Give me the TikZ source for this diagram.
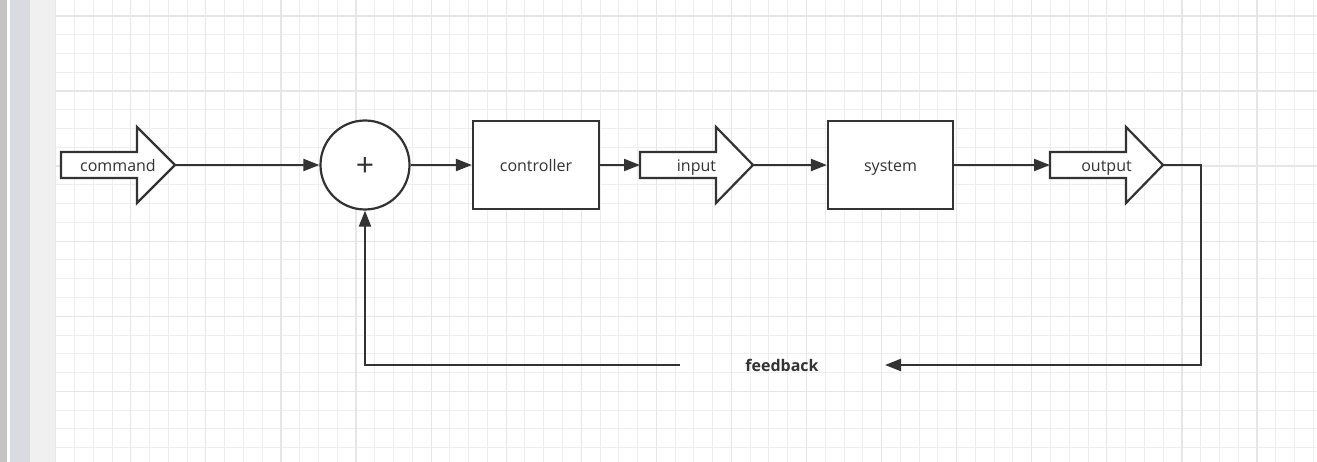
\documentclass[tikz,border=0pt]{standalone}
\usepackage{fontspec}
\setmainfont{Open Sans}
\usetikzlibrary{arrows.meta}
\definecolor{ink}{HTML}{333333}
\definecolor{gridminor}{HTML}{EEEEEE}
\definecolor{gridmajor}{HTML}{E6E6E6}
\definecolor{stripA}{HTML}{C4C4C4}
\definecolor{stripB}{HTML}{D9DBE0}
\definecolor{stripC}{HTML}{F0F0F0}
\tikzset{
  shapeline/.style={draw=ink, line width=2.2pt, fill=white},
  conn/.style={draw=ink, line width=2.2pt, -{Triangle[length=16pt,width=12pt]}},
  lbl/.style={text=ink, font=\fontsize{16}{19}\selectfont, inner sep=0pt, anchor=base},
  boldlbl/.style={text=ink, font=\fontsize{16}{19}\selectfont\bfseries, inner sep=0pt, anchor=base},
}
\begin{document}
\begin{tikzpicture}[x=1pt,y=-1pt]
\useasboundingbox (0,0) rectangle (1317,462);
% background
\fill[white] (0,0) rectangle (1317,462);
\fill[stripA] (0,0) rectangle (7.3,462);
\fill[stripB] (9.5,0) rectangle (30,462);
\fill[stripC] (30,0) rectangle (55.5,462);
% grid
\foreach \i in {0,...,67} {
  \draw[gridminor, line width=1pt] ({55.7+\i*18.77},0) -- ({55.7+\i*18.77},462);
}
\foreach \j in {0,...,25} {
  \draw[gridminor, line width=1pt] (55.5,{-2.85+\j*18.77}) -- (1317,{-2.85+\j*18.77});
}
\foreach \i in {0,...,16} {
  \draw[gridmajor, line width=1.2pt] ({55.7+\i*75.08},0) -- ({55.7+\i*75.08},462);
}
\foreach \j in {0,...,6} {
  \draw[gridmajor, line width=1.2pt] (55.5,{15.92+\j*75.08}) -- (1317,{15.92+\j*75.08});
}
% block arrows
\draw[shapeline] (61,152) -- (137,152) -- (137,127) -- (175,165) -- (137,203) -- (137,178) -- (61,178) -- cycle;
\node[lbl] (command) at (118,171.5) {command};
\coordinate (commandtip) at (175,165);

\draw[shapeline] (640,152) -- (716,152) -- (716,127) -- (753,165) -- (716,203) -- (716,178) -- (640,178) -- cycle;
\node[lbl] (input) at (696.5,171.5) {input};
\coordinate (inputtail) at (640,165);
\coordinate (inputtip) at (753,165);

\draw[shapeline] (1050,152) -- (1126,152) -- (1126,127) -- (1163,165) -- (1126,203) -- (1126,178) -- (1050,178) -- cycle;
\node[lbl] (output) at (1106.5,171.5) {output};
\coordinate (outputtail) at (1050,165);
\coordinate (outputtip) at (1163,165);

% summing junction
\node[shapeline, circle, minimum size=89pt, inner sep=0pt] (sum) at (365,165) {};
\node[text=ink, inner sep=0pt, font=\fontsize{32}{34}\selectfont] (plus) at (365,167) {+};

% blocks
\node[shapeline, minimum width=126pt, minimum height=88pt, inner sep=0pt] (controller) at (536,165) {};
\node[lbl] (controllertext) at (536,171.5) {controller};
\node[shapeline, minimum width=125pt, minimum height=88pt, inner sep=0pt] (system) at (890.5,165) {};
\node[lbl] (systemtext) at (890.5,171.5) {system};

% connectors
\draw[conn] (commandtip) -- (sum.west);
\draw[conn] (sum.east) -- (controller.west);
\draw[conn] (controller.east) -- (inputtail);
\draw[conn] (inputtip) -- (system.west);
\draw[conn] (system.east) -- (outputtail);

% feedback
\node[boldlbl] (feedback) at (782,371.5) {feedback};
\coordinate (fbright) at (885,365);
\coordinate (fbleft) at (680,365);
\coordinate (corner1) at (1201,165);
\coordinate (corner2) at (1201,365);
\coordinate (corner3) at (365,365);
\draw[conn] (outputtip) -- (corner1) -- (corner2) -- (fbright);
\draw[conn] (fbleft) -- (corner3) -- (sum.south);
\end{tikzpicture}
\end{document}
